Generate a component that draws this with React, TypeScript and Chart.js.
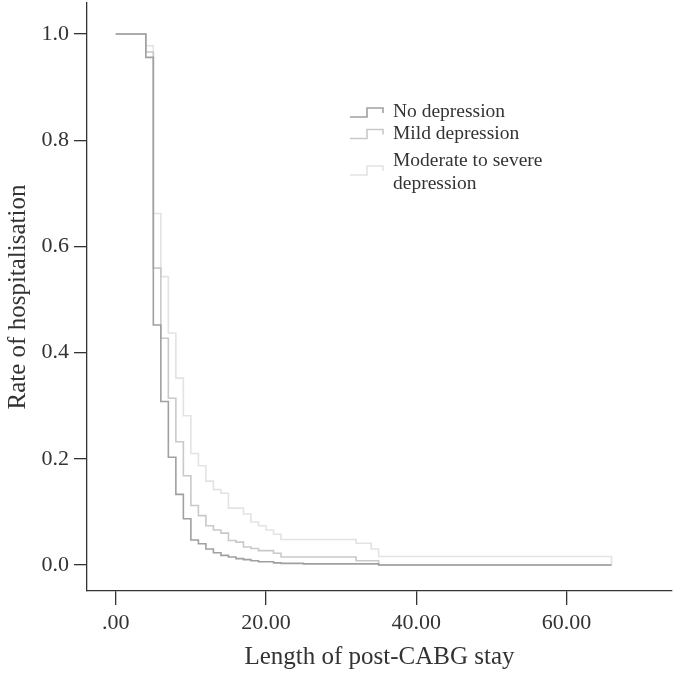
import React, { useEffect, useRef } from 'react';
import { Chart, registerables } from 'chart.js';

Chart.register(...registerables);

// ---- data ----
const seriesNames = ['No depression', 'Mild depression', 'Moderate to severe depression'];
const legendLines = [['No depression'], ['Mild depression'], ['Moderate to severe', 'depression']];

const noDepDays = [0, 4, 5, 6, 7, 8, 9, 10, 11, 12, 13, 14, 15, 16, 17, 18, 19, 21, 22, 25, 35, 66];
const noDepRate = [1.0, 0.956, 0.452, 0.308, 0.203, 0.133, 0.087, 0.047, 0.040, 0.030, 0.023, 0.018, 0.015, 0.012, 0.010, 0.008, 0.006, 0.004, 0.003, 0.002, 0.0, 0.0];

const mildDays = [0, 4, 5, 6, 7, 8, 9, 10, 11, 12, 13, 14, 15, 16, 17, 18, 19, 21, 22, 32, 35, 66];
const mildRate = [1.0, 0.966, 0.559, 0.427, 0.314, 0.232, 0.168, 0.112, 0.093, 0.074, 0.066, 0.060, 0.046, 0.043, 0.034, 0.031, 0.027, 0.022, 0.015, 0.008, 0.0, 0.0];

const modSevDays = [0, 4, 5, 6, 7, 8, 9, 10, 11, 12, 13, 14, 15, 17, 18, 19, 20, 21, 22, 32, 34, 35, 66];
const modSevRate = [1.0, 0.978, 0.662, 0.543, 0.437, 0.352, 0.281, 0.210, 0.187, 0.158, 0.142, 0.135, 0.107, 0.096, 0.081, 0.074, 0.066, 0.058, 0.048, 0.041, 0.030, 0.016, 0.0];

const xTickValues = [0, 20, 40, 60];
const xTickLabels = ['.00', '20.00', '40.00', '60.00'];
const yTickValues = [0, 0.2, 0.4, 0.6, 0.8, 1.0];
const yTickLabels = ['0.0', '0.2', '0.4', '0.6', '0.8', '1.0'];

const xTitle = 'Length of post-CABG stay';
const yTitle = 'Rate of hospitalisation';

// ---- styles ----
const seriesColors = ['#a0a0a0', '#c9c9c9', '#e3e3e3'];
const FONT = "'Liberation Serif', 'Times New Roman', serif";
const AXIS_COLOR = '#333333';

const toPoints = (days: number[], rates: number[]) => days.map((d, i) => ({ x: d, y: rates[i] }));

const stepLegend = {
  id: 'stepLegend',
  afterDraw(chart: any) {
    const ctx = chart.ctx as CanvasRenderingContext2D;
    const rows = [
      { low: 117, baselines: [117] },
      { low: 138.5, baselines: [139] },
      { low: 175, baselines: [166, 189] },
    ];
    ctx.save();
    rows.forEach((r, i) => {
      ctx.strokeStyle = seriesColors[i];
      ctx.lineWidth = 1.6;
      ctx.beginPath();
      const high = r.low - 9;
      ctx.moveTo(350, r.low);
      ctx.lineTo(367, r.low);
      ctx.lineTo(367, high);
      ctx.lineTo(383, high);
      ctx.lineTo(383, high + 5);
      ctx.stroke();
      ctx.fillStyle = '#333333';
      ctx.font = `19.5px ${FONT}`;
      ctx.textAlign = 'left';
      ctx.textBaseline = 'alphabetic';
      legendLines[i].forEach((t, j) => ctx.fillText(t, 393, r.baselines[j]));
    });
    ctx.restore();
  },
};

export default function App() {
  const ref = useRef<HTMLCanvasElement | null>(null);
  useEffect(() => {
    if (!ref.current) return;
    const chart = new Chart(ref.current, {
      type: 'line',
      data: {
        datasets: [
          { label: seriesNames[0], data: toPoints(noDepDays, noDepRate), borderColor: seriesColors[0] },
          { label: seriesNames[1], data: toPoints(mildDays, mildRate), borderColor: seriesColors[1] },
          { label: seriesNames[2], data: toPoints(modSevDays, modSevRate), borderColor: seriesColors[2] },
        ].map((d) => ({ ...d, stepped: true, pointRadius: 0, borderWidth: 1.6, fill: false })),
      },
      options: {
        animation: false,
        responsive: false,
        devicePixelRatio: 1,
        layout: { padding: { top: 3, right: 8, left: 0, bottom: 0 } },
        plugins: { legend: { display: false }, tooltip: { enabled: false } },
        scales: {
          x: {
            type: 'linear',
            min: -3.83,
            max: 74.05,
            afterBuildTicks: (s: any) => {
              s.ticks = xTickValues.map((v) => ({ value: v }));
            },
            afterFit: (s: any) => {
              s.height = 83;
              s.paddingLeft = 0;
              s.paddingRight = 0;
            },
            grid: { drawOnChartArea: false, drawTicks: true, tickLength: 14, color: AXIS_COLOR, lineWidth: 1.3 },
            border: { display: true, color: AXIS_COLOR, width: 1.3 },
            ticks: {
              color: AXIS_COLOR,
              font: { family: FONT, size: 22 },
              padding: 5,
              maxRotation: 0,
              autoSkip: false,
              callback: (v: any) => xTickLabels[xTickValues.indexOf(Number(v))] ?? '',
            },
            title: { display: true, text: xTitle, color: AXIS_COLOR, font: { family: FONT, size: 25 }, padding: { top: 0, bottom: 2 } },
          },
          y: {
            type: 'linear',
            min: -0.049,
            max: 1.0584,
            afterBuildTicks: (s: any) => {
              s.ticks = yTickValues.map((v) => ({ value: v }));
            },
            afterFit: (s: any) => {
              s.width = 87;
              s.paddingTop = 0;
              s.paddingBottom = 0;
            },
            grid: { drawOnChartArea: false, drawTicks: true, tickLength: 13, color: AXIS_COLOR, lineWidth: 1.3 },
            border: { display: true, color: AXIS_COLOR, width: 1.3 },
            ticks: {
              color: AXIS_COLOR,
              font: { family: FONT, size: 22 },
              padding: 5,
              autoSkip: false,
              callback: (v: any) => {
                const idx = yTickValues.findIndex((t) => Math.abs(t - Number(v)) < 1e-6);
                return idx >= 0 ? yTickLabels[idx] : '';
              },
            },
            title: { display: true, text: yTitle, color: AXIS_COLOR, font: { family: FONT, size: 25 }, padding: { top: 3, bottom: 0 } },
          },
        },
      },
      plugins: [stepLegend],
    } as any);
    return () => chart.destroy();
  }, []);
  return (
    <div style={{ position: 'absolute', left: 0, top: 0, width: 680, height: 674, background: '#ffffff' }}>
      <canvas ref={ref} width={680} height={674} style={{ display: 'block' }} />
    </div>
  );
}
